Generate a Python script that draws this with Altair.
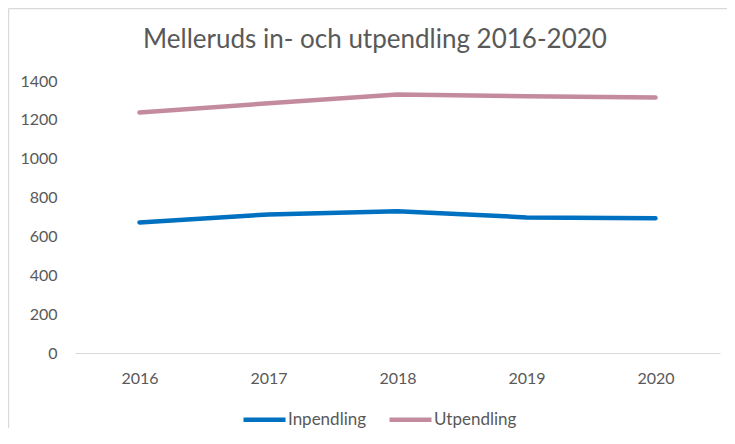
import altair as alt
import pandas as pd

years = ["2016", "2017", "2018", "2019", "2020"]
inpendling = [672, 713, 730, 698, 694]
utpendling = [1238, 1285, 1330, 1322, 1315]
series_names = ["Inpendling", "Utpendling"]
series_colors = ["#0070C0", "#C48B9F"]
title_text = "Melleruds in- och utpendling 2016-2020"

rows = []
for name, vals in zip(series_names, [inpendling, utpendling]):
    for y, v in zip(years, vals):
        rows.append({"År": y, "Antal": v, "Serie": name})
df = pd.DataFrame(rows)

FONT = "Lato"
GRAY = "#595959"
one = pd.DataFrame({"a": [0]})

border_top = alt.Chart(one).mark_rule(stroke="#d9d9d9", strokeWidth=1.2, clip=False).encode(
    x=alt.value(-66.4), x2=alt.value(652), y=alt.value(-72.4)
)
border_left = alt.Chart(one).mark_rule(stroke="#d9d9d9", strokeWidth=1.2, clip=False).encode(
    x=alt.value(-66.4), y=alt.value(-72.4), y2=alt.value(347)
)

title = alt.Chart(pd.DataFrame({"t": [title_text]})).mark_text(
    font=FONT, fontSize=26, color=GRAY, align="center", baseline="alphabetic", clip=False
).encode(
    text="t:N", x=alt.value(300), y=alt.value(-33)
)

lines = alt.Chart(df).mark_line(strokeWidth=4.5, strokeCap="round", strokeJoin="round").encode(
    x=alt.X("År:O", scale=alt.Scale(type="point", padding=0.5),
            axis=alt.Axis(title=None, labelAngle=0, ticks=False, domain=True,
                          domainColor="#d9d9d9", domainWidth=1.2, labelPadding=17,
                          labelFont=FONT, labelFontSize=16, labelColor=GRAY)),
    y=alt.Y("Antal:Q", scale=alt.Scale(domain=[0, 1400], nice=False),
            axis=alt.Axis(title=None, values=[0, 200, 400, 600, 800, 1000, 1200, 1400],
                          format="d", grid=False, domain=False, ticks=False, labelPadding=18,
                          labelFont=FONT, labelFontSize=16, labelColor=GRAY)),
    color=alt.Color("Serie:N", scale=alt.Scale(domain=series_names, range=series_colors),
                    legend=alt.Legend(title=None, orient="none", legendX=166, legendY=315,
                                      direction="horizontal", symbolType="stroke",
                                      symbolSize=1764, symbolStrokeWidth=4.5,
                                      labelOffset=0, columnPadding=13,
                                      labelFont=FONT, labelFontSize=17, labelColor=GRAY)),
)

chart = alt.layer(border_top, border_left, lines, title).properties(
    width=645, height=272,
    autosize=alt.AutoSizeParams(type="none"),
    padding={"left": 67, "top": 73, "right": 7, "bottom": 75},
    background="white",
).configure_view(stroke=None)

chart.save("out.html", embed_options={"renderer": "svg", "actions": False})
